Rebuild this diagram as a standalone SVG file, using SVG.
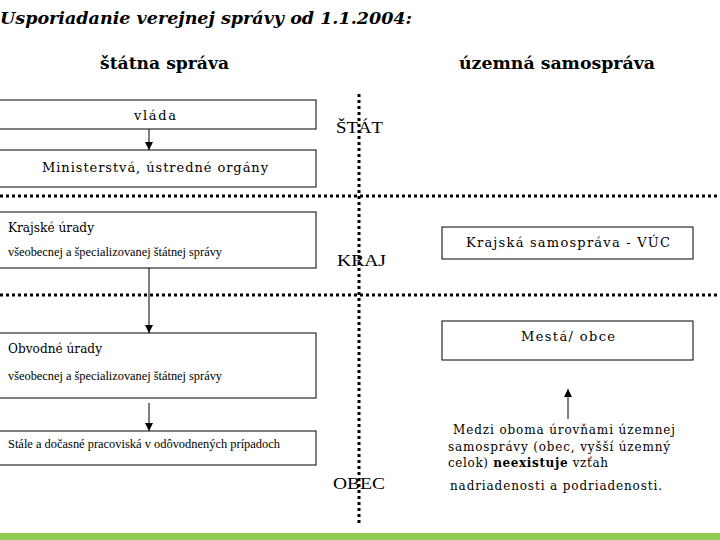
<svg xmlns="http://www.w3.org/2000/svg" width="720" height="540" viewBox="0 0 720 540">
<defs>
<style>
.box{fill:#fff;stroke:#000;stroke-width:1}
.dot{stroke:#000;stroke-width:3;stroke-dasharray:3 3;fill:none}
.ln{stroke:#000;stroke-width:1;fill:none}
.t{font-family:"Liberation Serif","DejaVu Serif",serif;fill:#000}
.w{font-family:"DejaVu Serif","Liberation Serif",serif;fill:#000}
.bx{font-size:13px}
.sm{font-size:12px}
.hd{font-family:"DejaVu Serif",serif;font-weight:bold;font-size:16px;fill:#000}
.ti{font-family:"DejaVu Serif",serif;font-weight:bold;font-style:italic;font-size:17px;fill:#000}
.lv{font-size:17px}
.nt{font-size:12px}
</style>
<marker id="ah" viewBox="0 0 10 10" refX="10" refY="5" markerWidth="8" markerHeight="8" markerUnits="userSpaceOnUse" orient="auto">
<path d="M0,0 L10,5 L0,10 z" fill="#000"/>
</marker>
</defs>
<rect x="0" y="0" width="720" height="540" fill="#fff"/>
<rect x="0" y="533" width="720" height="7" fill="#8fcb52"/>

<text class="ti" x="0" y="24" textLength="412" lengthAdjust="spacingAndGlyphs">Usporiadanie verejnej správy od 1.1.2004:</text>
<text class="hd" x="100" y="69" textLength="129" lengthAdjust="spacingAndGlyphs">štátna správa</text>
<text class="hd" x="459" y="69" textLength="196" lengthAdjust="spacingAndGlyphs">územná samospráva</text>

<g id="dividers">
<line class="dot" x1="0" y1="196" x2="720" y2="196"/>
<line class="dot" x1="0" y1="295" x2="720" y2="295"/>
<line class="dot" x1="359" y1="94" x2="359" y2="524"/>
</g>

<g id="connectors">
<line class="ln" x1="149" y1="129" x2="149" y2="150" marker-end="url(#ah)"/>
<line class="ln" x1="149" y1="268" x2="149" y2="333" marker-end="url(#ah)"/>
<line class="ln" x1="149" y1="403" x2="149" y2="431" marker-end="url(#ah)"/>
<line class="ln" x1="568" y1="419" x2="568" y2="389" marker-end="url(#ah)"/>
</g>

<g id="vlada">
<rect class="box" x="-1" y="100" width="317" height="29"/>
<text class="w bx" x="134" y="120" textLength="42" lengthAdjust="spacing">vláda</text>
</g>
<g id="ministerstva">
<rect class="box" x="-1" y="150" width="317" height="37"/>
<text class="w bx" x="42" y="172" textLength="226" lengthAdjust="spacing">Ministerstvá, ústredné orgány</text>
</g>
<g id="krajske-urady">
<rect class="box" x="-1" y="212" width="317" height="56"/>
<text class="w bx" x="8" y="232" textLength="86" lengthAdjust="spacingAndGlyphs">Krajské úrady</text>
<text class="t sm" x="8" y="256" textLength="214" lengthAdjust="spacingAndGlyphs">všeobecnej a špecializovanej štátnej správy</text>
</g>
<g id="obvodne-urady">
<rect class="box" x="-1" y="333" width="317" height="65"/>
<text class="w bx" x="8" y="353" textLength="94" lengthAdjust="spacingAndGlyphs">Obvodné úrady</text>
<text class="t sm" x="8" y="380" textLength="214" lengthAdjust="spacingAndGlyphs">všeobecnej a špecializovanej štátnej správy</text>
</g>
<g id="pracoviska">
<rect class="box" x="-1" y="431" width="317" height="34"/>
<text class="t sm" x="8" y="448" textLength="272" lengthAdjust="spacingAndGlyphs">Stále a dočasné pracoviská v odôvodnených prípadoch</text>
</g>

<g id="stat"><text class="t lv" x="336" y="133" textLength="47" lengthAdjust="spacingAndGlyphs">ŠTÁT</text></g>
<g id="kraj"><text class="t lv" x="337" y="266" textLength="49" lengthAdjust="spacingAndGlyphs">KRAJ</text></g>
<g id="obec"><text class="t lv" x="333" y="489" textLength="52" lengthAdjust="spacingAndGlyphs">OBEC</text></g>

<g id="krajska-samosprava">
<rect class="box" x="442" y="227" width="251" height="32"/>
<text class="w bx" x="466" y="247" textLength="204" lengthAdjust="spacing">Krajská samospráva - VÚC</text>
</g>
<g id="mesta-obce">
<rect class="box" x="442" y="321" width="251" height="39"/>
<text class="w bx" x="521" y="341" textLength="94" lengthAdjust="spacing">Mestá/ obce</text>
</g>

<g id="poznamka">
<text class="w nt" x="453" y="434" textLength="222" lengthAdjust="spacing">Medzi oboma úrovňami územnej</text>
<text class="w nt" x="448" y="451" textLength="222" lengthAdjust="spacing">samosprávy (obec, vyšší územný</text>
<text class="w nt" x="448" y="467" textLength="160" lengthAdjust="spacing">celok) <tspan font-weight="bold">neexistuje</tspan> vzťah</text>
<text class="w nt" x="450" y="490" textLength="212" lengthAdjust="spacing">nadriadenosti a podriadenosti.</text>
</g>
</svg>
